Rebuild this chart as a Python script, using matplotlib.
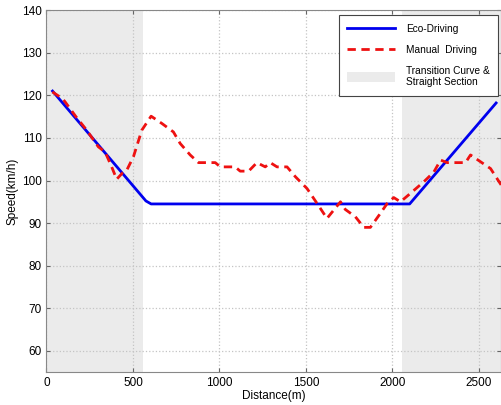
import matplotlib
matplotlib.use("Agg")
import matplotlib.pyplot as plt
from matplotlib.patches import Patch
from matplotlib.lines import Line2D

plt.rcParams['font.family'] = ['Liberation Sans', 'DejaVu Sans']

# eco-driving profile (distance m, speed km/h)
eco_dist = [35, 575, 605, 2100, 2600]
eco_speed = [121, 95.2, 94.5, 94.5, 118.2]

# manual driving profile
man_dist = [34, 90, 107, 170, 233, 300, 339, 377, 406, 440, 464, 503, 551, 605,
            667, 734, 773, 831, 879, 976, 1005, 1091, 1120, 1169, 1217, 1265,
            1294, 1333, 1391, 1439, 1507, 1565, 1622, 1700, 1728, 1786, 1835,
            1873, 1931, 1970, 2008, 2047, 2105, 2182, 2240, 2279, 2317, 2423,
            2452, 2568, 2630]
man_speed = [120.8, 119.3, 118.5, 115, 111.8, 107.9, 106.7, 103.2, 100.3, 101.8,
             102.4, 105.6, 111.8, 115.1, 113.4, 111.4, 108.7, 106, 104.2, 104.2,
             103.2, 103.2, 102.2, 102.2, 104.2, 103.2, 104.2, 103.2, 103.2, 100.9,
             98.1, 94.6, 91.1, 95.0, 93.2, 91.5, 89.0, 89.0, 92.3, 94.6, 96.0,
             95.0, 97.0, 99.7, 102.0, 104.8, 104.2, 104.2, 106.0, 102.8, 98.9]

# transition curve & straight sections
shade_spans = [(0, 558), (2057, 2640)]

fig = plt.figure(figsize=(5.02, 4.05), dpi=100)
ax = fig.add_axes([0.0926, 0.081, 0.906, 0.894])

for x0, x1 in shade_spans:
    ax.axvspan(x0, x1, color='#ebebeb', lw=0, zorder=0)

ax.plot(eco_dist, eco_speed, color='#0000ee', lw=2, zorder=3)
ax.plot(man_dist, man_speed, color='#ee1111', lw=2, ls=(0, (3, 2)), zorder=4)

ax.set_xlim(0, 2630)
ax.set_ylim(55, 140)
ax.set_xticks(range(0, 2501, 500))
ax.set_yticks(range(60, 141, 10))
ax.grid(True, ls=':', color='#c4c4c4', lw=0.9)
ax.set_axisbelow(True)
ax.tick_params(direction='in', length=3, labelsize=8.5, top=True, right=True,
               color='#666666')
for s in ax.spines.values():
    s.set_color('#888888')

ax.set_xlabel('Distance(m)', fontsize=8.5, labelpad=1)
ax.set_ylabel('Speed(km/h)', fontsize=8.5, labelpad=2)

handles = [Line2D([], [], color='#0000ee', lw=2),
           Line2D([], [], color='#ee1111', lw=2, ls=(0, (3, 2))),
           Patch(facecolor='#ebebeb', edgecolor='none')]
labels = ['Eco-Driving', 'Manual  Driving', 'Transition Curve &\nStraight Section']
leg = ax.legend(handles, labels, loc='upper right', fontsize=7.3, handlelength=4.7,
                handleheight=1.2, labelspacing=1.05, borderpad=0.8, handletextpad=1.1,
                borderaxespad=0, fancybox=False, framealpha=1, edgecolor='#444444',
                bbox_to_anchor=(0.992, 0.986))
leg.get_frame().set_linewidth(0.8)

fig.savefig('out.png', dpi=100)
